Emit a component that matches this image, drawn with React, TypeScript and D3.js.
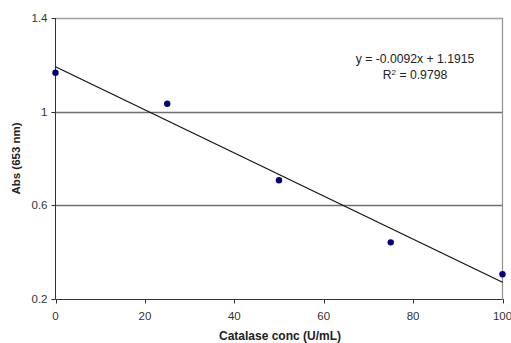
import React from "react";
import * as d3 from "d3";

const concentrations = [0, 25, 50, 75, 100];
const absorbance = [1.166, 1.034, 0.707, 0.442, 0.306];
const xTicks = [0, 20, 40, 60, 80, 100];
const yTicks = [0.2, 0.6, 1.0, 1.4];
const slope = -0.0092;
const intercept = 1.1915;
const equationText = "y = -0.0092x + 1.1915";
const r2Value = "0.9798";

const W = 511;
const H = 343;
const M = { left: 55.5, right: 502.5, top: 18, bottom: 299 };

export default function App() {
  const x = d3.scaleLinear().domain([0, 100]).range([M.left, M.right]);
  const y = d3.scaleLinear().domain([0.2, 1.4]).range([M.bottom, M.top]);
  const font = "'Liberation Sans', Arial, sans-serif";
  const line = d3
    .line<number>()
    .x((d) => x(d))
    .y((d) => y(slope * d + intercept));

  return (
    <svg
      width={W}
      height={H}
      style={{ position: "absolute", left: 0, top: 0, background: "#fff" }}
      fontFamily={font}
    >
      {/* gridlines */}
      {yTicks.slice(1).map((t) => (
        <line
          key={"g" + t}
          x1={M.left}
          x2={M.right}
          y1={Math.round(y(t)) + 0.5}
          y2={Math.round(y(t)) + 0.5}
          stroke={t === 1.4 ? "#a0a0a0" : "#6e6e6e"}
          strokeWidth={1.3}
        />
      ))}
      {/* right border */}
      <line x1={M.right} x2={M.right} y1={M.top} y2={M.bottom} stroke="#909090" strokeWidth={1.2} />
      {/* axes */}
      <line x1={M.left} x2={M.left} y1={M.top} y2={M.bottom + 0.5} stroke="#333" strokeWidth={1} />
      <line x1={M.left} x2={M.right} y1={M.bottom + 0.5} y2={M.bottom + 0.5} stroke="#333" strokeWidth={1} />
      {yTicks.map((t) => (
        <g key={"y" + t}>
          <line
            x1={M.left - 4}
            x2={M.left}
            y1={Math.round(y(t)) + 0.5}
            y2={Math.round(y(t)) + 0.5}
            stroke="#333"
          />
          <text
            x={M.left - 8}
            y={y(t) + 4}
            textAnchor="end"
            fontSize={11.5}
            fill="#333"
          >
            {d3.format("")(+t.toFixed(1))}
          </text>
        </g>
      ))}
      {xTicks.map((t) => (
        <g key={"x" + t}>
          <line
            x1={Math.round(x(t)) + 0.5}
            x2={Math.round(x(t)) + 0.5}
            y1={M.bottom}
            y2={M.bottom + 4.5}
            stroke="#333"
          />
          <text x={x(t)} y={M.bottom + 21} textAnchor="middle" fontSize={11.5} fill="#333">
            {t}
          </text>
        </g>
      ))}
      {/* trendline */}
      <path d={line([0, 100]) || ""} stroke="#111" strokeWidth={1.2} fill="none" />
      {/* points */}
      {concentrations.map((c, i) => (
        <circle key={"p" + i} cx={x(c)} cy={y(absorbance[i])} r={3.2} fill="#000080" />
      ))}
      {/* equation */}
      <text x={415} y={62.5} textAnchor="middle" fontSize={12.2} fill="#222">
        {equationText}
      </text>
      <text x={415} y={79} textAnchor="middle" fontSize={12.2} fill="#222">
        R<tspan dy={-4.5} fontSize={8}>2</tspan>
        <tspan dy={4.5}>{" = " + r2Value}</tspan>
      </text>
      {/* axis titles */}
      <text
        x={(M.left + M.right) / 2 + 1}
        y={340}
        textAnchor="middle"
        fontSize={12}
        fontWeight="bold"
        fill="#222"
      >
        Catalase conc (U/mL)
      </text>
      <text
        transform={`translate(20,${(M.top + M.bottom) / 2}) rotate(-90)`}
        textAnchor="middle"
        fontSize={11.5}
        fontWeight="bold"
        fill="#222"
      >
        Abs (653 nm)
      </text>
    </svg>
  );
}
